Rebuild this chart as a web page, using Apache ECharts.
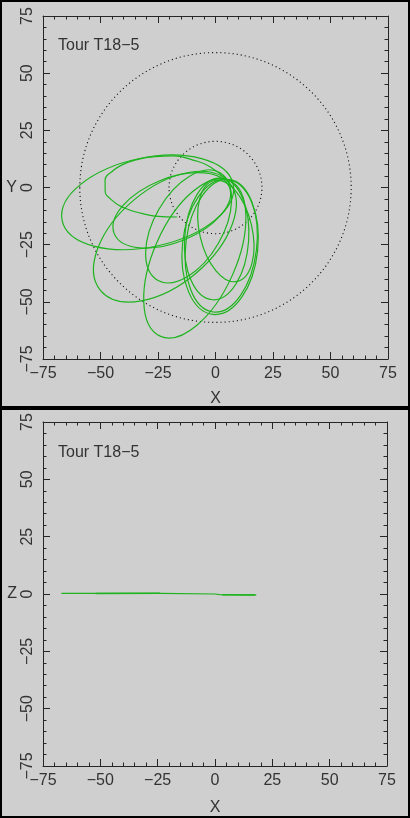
<!DOCTYPE html>
<html><head><meta charset="utf-8">
<script src="https://cdn.jsdelivr.net/npm/echarts@6/dist/echarts.min.js"></script>
<style>html,body{margin:0;padding:0;background:#cfcfcf}#c{width:410px;height:818px}</style>
</head><body><div id="c"></div>
<script>
// ---- data ----
const tickValues = [-75, -50, -25, 0, 25, 50, 75];
const titleText = 'Tour T18\u22125';
const xName = 'X', yName = 'Y', zName = 'Z';

// dotted reference orbits (radius, centred on origin)
const orbitRadii = [20.2, 59.0];

// closed trajectory loops (ellipses): centre x, centre y, semi-major, semi-minor, tilt (deg)
const loopCx    = [-29.5, -19.0, -22.0,  -9.0, -11.7,  2.0,  2.5,  0.5,   4.5];
const loopCy    = [ -6.5, -10.0, -21.5, -31.0, -17.0, -26.0, -25.5, -22.5, -19.0];
const loopA     = [ 38.0,  27.0,  36.5,  37.0,  27.0, 29.5, 29.0, 26.5,  22.5];
const loopB     = [ 19.5,  14.0,  21.0,  18.0,  15.0, 16.5, 15.5, 14.0,  11.5];
const loopAngle = [ 12,    22,    40,    66,    60,   84,   83,   86,   103];

// open start of the trajectory (X, Y)
const startX = [-16.7, -26.3, -32.1, -39.3, -45.1, -48.0, -48.0, -45.1, -40.8, -35.0, -26.3, -18.5, -9.8, -2.4, 4.9];
const startY = [-12.9, -12.5, -11.3,  -9.1,  -5.5,  -1.1,   3.3,   6.9,   9.8,  12.0,  13.5,  13.8, 12.0,  9.1, 3.3];

// X-Z projection
const zTrackX = [-67, -52, -24, 0, 2, 18];
const zTrackZ = [0.3, 0.25, 0.25, 0.0, -0.25, -0.35];
const zThickX = [-52, -24];
const zThickZ = [0.2, 0.3];
const zThick2X = [3, 17.5];
const zThick2Z = [-0.35, -0.45];

// ---- styling ----
const green = '#1fb41f';
const axisCol = '#262626';
const textCol = '#333';
const font = 'Liberation Sans';
const fmt = v => (v < 0 ? '\u2212' + Math.abs(v) : String(v));

function xAx(grid, pos, labels, name, gap) {
  return {
    type: 'value', gridIndex: grid, position: pos, min: tickValues[0], max: tickValues[tickValues.length - 1], interval: 25,
    axisLine: { show: true, onZero: false, lineStyle: { color: axisCol, width: 1 } },
    axisTick: { show: true, inside: true, length: 7, lineStyle: { color: axisCol } },
    minorTick: { show: true, splitNumber: 5, length: 3.5, lineStyle: { color: axisCol } },
    splitLine: { show: false },
    axisLabel: { show: labels, margin: 7, color: textCol, fontFamily: font, fontSize: 16, formatter: fmt },
    name: labels ? name : '', nameLocation: 'middle', nameGap: gap,
    nameTextStyle: { color: textCol, fontFamily: font, fontSize: 16 }
  };
}
function yAx(grid, pos, labels, name) {
  return {
    type: 'value', gridIndex: grid, position: pos, min: tickValues[0], max: tickValues[tickValues.length - 1], interval: 25,
    axisLine: { show: true, onZero: false, lineStyle: { color: axisCol, width: 1 } },
    axisTick: { show: true, inside: true, length: 7, lineStyle: { color: axisCol } },
    minorTick: { show: true, splitNumber: 5, length: 3.5, lineStyle: { color: axisCol } },
    splitLine: { show: false },
    axisLabel: { show: labels, rotate: 90, margin: 7, color: textCol, fontFamily: font, fontSize: 16, formatter: fmt },
    name: labels ? name : '', nameLocation: 'middle', nameGap: 26, nameRotate: 0,
    nameTextStyle: { color: textCol, fontFamily: font, fontSize: 16, padding: [0, 0, 8, 0] }
  };
}

function ellipseRender(dash) {
  return function (params, api) {
    const c = api.coord([api.value(0), api.value(1)]);
    const s = api.size([api.value(2), api.value(3)]);
    return {
      type: 'ellipse', x: c[0], y: c[1], rotation: (api.value(4) || 0) * Math.PI / 180,
      shape: { cx: 0, cy: 0, rx: s[0], ry: s[1] },
      style: dash ? { fill: 'none', stroke: '#111', lineWidth: 1.1, lineDash: [1.1, 3] }
                  : { fill: 'none', stroke: green, lineWidth: 1.2 }
    };
  };
}

const chart = echarts.init(document.getElementById('c'), null, { renderer: 'canvas' });
chart.setOption({
  backgroundColor: '#cfcfcf',
  animation: false,
  title: [
    { text: titleText, left: 58, top: 38, padding: 0, textStyle: { color: textCol, fontFamily: font, fontSize: 16, fontWeight: 'normal' } },
    { text: titleText, left: 58, top: 445, padding: 0, textStyle: { color: textCol, fontFamily: font, fontSize: 16, fontWeight: 'normal' } }
  ],
  grid: [
    { left: 43, top: 16, width: 345, height: 343 },
    { left: 43, top: 422, width: 344, height: 344 }
  ],
  xAxis: [xAx(0, 'bottom', true, xName, 32), xAx(0, 'top', false, '', 0),
          xAx(1, 'bottom', true, xName, 34), xAx(1, 'top', false, '', 0)],
  yAxis: [yAx(0, 'left', true, yName), yAx(0, 'right', false, ''),
          yAx(1, 'left', true, zName), yAx(1, 'right', false, '')],
  series: [
    { type: 'custom', xAxisIndex: 0, yAxisIndex: 0, silent: true,
      data: orbitRadii.map(r => [0, 0, r, r, 0]), encode: { x: 0, y: 1 }, renderItem: ellipseRender(true) },
    { type: 'custom', xAxisIndex: 0, yAxisIndex: 0, silent: true,
      data: loopCx.map((c, i) => [c, loopCy[i], loopA[i], loopB[i], loopAngle[i]]), encode: { x: 0, y: 1 }, renderItem: ellipseRender(false) },
    { type: 'line', xAxisIndex: 0, yAxisIndex: 0, silent: true, smooth: true, showSymbol: false,
      data: startX.map((x, i) => [x, startY[i]]), lineStyle: { color: green, width: 1.2 } },
    { type: 'line', xAxisIndex: 2, yAxisIndex: 2, silent: true, showSymbol: false,
      data: zTrackX.map((x, i) => [x, zTrackZ[i]]), lineStyle: { color: green, width: 1.2 } },
    { type: 'line', xAxisIndex: 2, yAxisIndex: 2, silent: true, showSymbol: false,
      data: zThickX.map((x, i) => [x, zThickZ[i]]), lineStyle: { color: green, width: 1.6 } },
    { type: 'line', xAxisIndex: 2, yAxisIndex: 2, silent: true, showSymbol: false,
      data: zThick2X.map((x, i) => [x, zThick2Z[i]]), lineStyle: { color: green, width: 1.6 } }
  ],
  graphic: [
    { type: 'rect', shape: { x: 1, y: 1, width: 408, height: 816 }, style: { fill: 'none', stroke: '#000', lineWidth: 2 }, silent: true, z: 100 },
    { type: 'line', shape: { x1: 0, y1: 408, x2: 410, y2: 408 }, style: { stroke: '#000', lineWidth: 4 }, silent: true, z: 100 }
  ]
});
</script></body></html>
